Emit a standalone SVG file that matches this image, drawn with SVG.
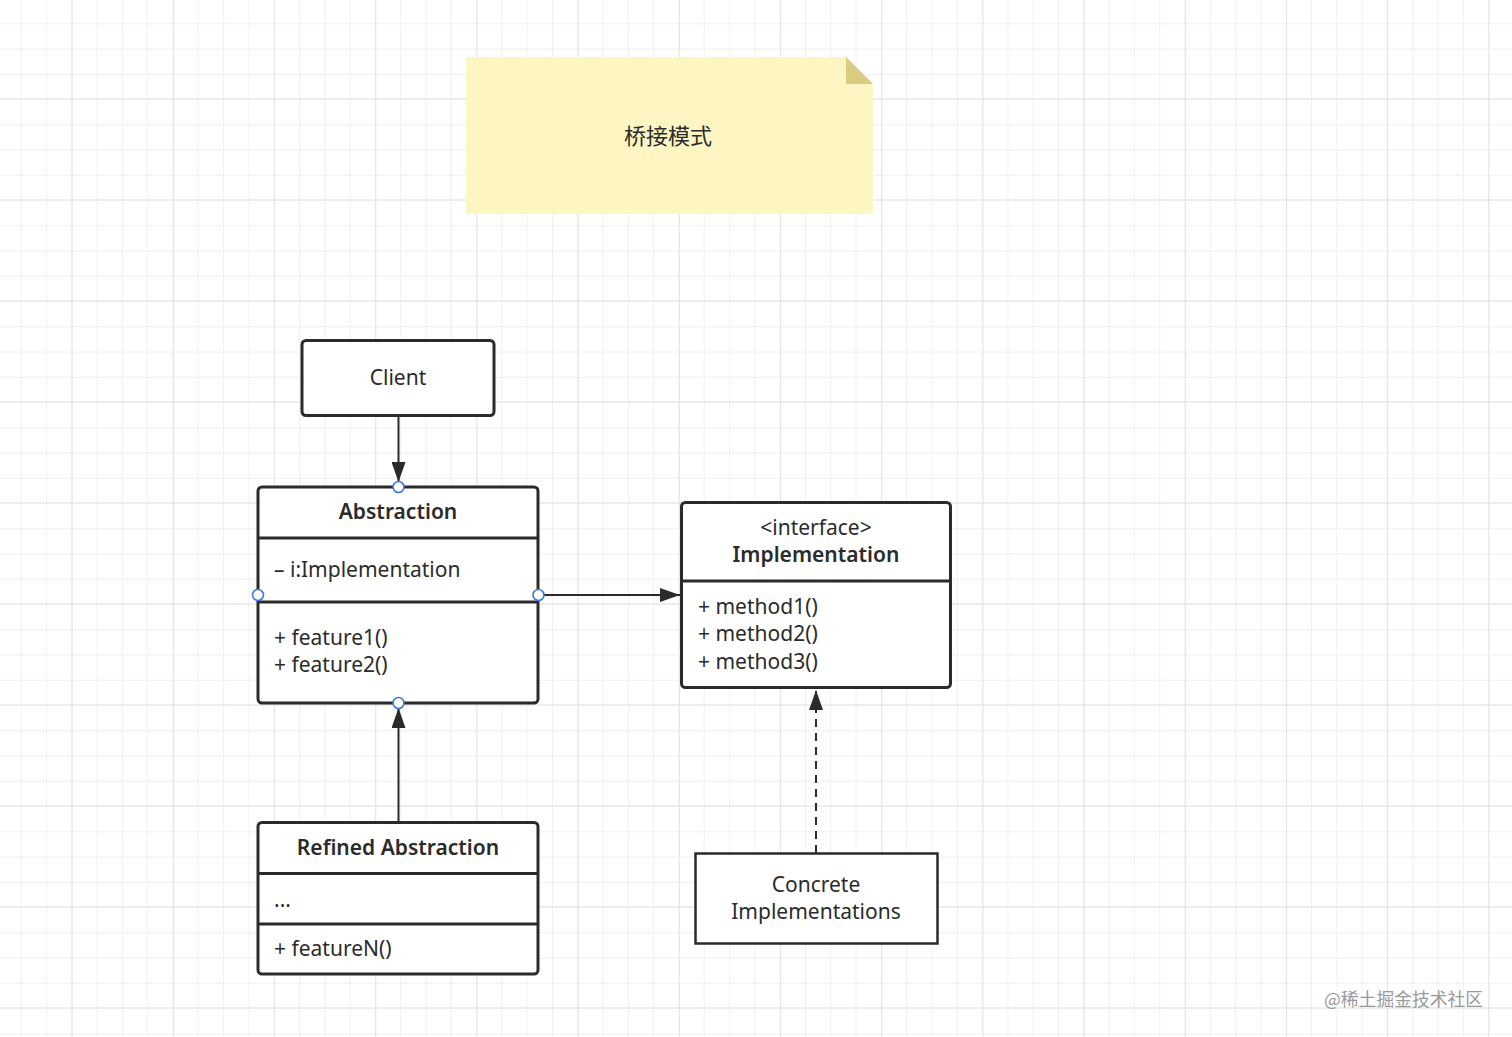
<svg xmlns="http://www.w3.org/2000/svg" width="1512" height="1037" viewBox="0 0 1512 1037">
<defs>
<pattern id="minor" x="20.7" y="23.3" width="25.3" height="25.25" patternUnits="userSpaceOnUse">
<path d="M0 0 V25.25 M0 0 H25.3" fill="none" stroke="#ebebeb" stroke-width="1.3"/>
</pattern>
<pattern id="major" x="71.7" y="98.3" width="101.2" height="101" patternUnits="userSpaceOnUse">
<path d="M0 0 V101 M0 0 H101.2" fill="none" stroke="#e0e0e0" stroke-width="1.6"/>
</pattern>
<marker id="arrV" viewBox="0 0 20 14" refX="20" refY="7" markerWidth="20" markerHeight="14" markerUnits="userSpaceOnUse" orient="auto">
<path d="M0 0 L20 7 L0 14 Z" fill="#2b2b2b"/>
</marker>
</defs>
<style>
.box{fill:#fff;stroke:#2b2b2b;stroke-width:3}
.div{stroke:#2b2b2b;stroke-width:3}
.t{font-family:"Noto Sans","Liberation Sans",sans-serif;font-size:21px;fill:#2b2b2b}
.b{font-weight:600}
.m{text-anchor:middle}
.conn{fill:none;stroke:#2b2b2b;stroke-width:2}
.pt{fill:#fff;stroke:#3b78e7;stroke-width:1.6}
</style>
<rect width="1512" height="1037" fill="#fff"/>
<rect width="1512" height="1037" fill="url(#minor)"/>
<rect width="1512" height="1037" fill="url(#major)"/>

<g id="note">
<path d="M466 57 H846 L873 84 V214 H466 Z" fill="#fdf5c2"/>
<path d="M846 57 L873 84 H846 Z" fill="#dccb83"/>
<text x="668" y="144" text-anchor="middle" style="font-family:'Noto Sans CJK SC','Noto Sans',sans-serif;font-size:22px;fill:#2b2b2b">桥接模式</text>
</g>

<g id="client">
<rect class="box" x="302" y="340.5" width="192" height="75" rx="4"/>
<text class="t m" x="398" y="385">Client</text>
</g>

<g id="abstraction">
<rect class="box" x="258" y="487" width="280" height="216" rx="4"/>
<line class="div" x1="258" y1="538" x2="538" y2="538"/>
<line class="div" x1="258" y1="602" x2="538" y2="602"/>
<text class="t b m" x="398" y="519">Abstraction</text>
<text class="t" x="274" y="577">– i:Implementation</text>
<text class="t" x="274" y="645">+ feature1()</text>
<text class="t" x="274" y="672">+ feature2()</text>
</g>

<g id="implementation">
<rect class="box" x="681.5" y="502.5" width="269" height="185" rx="4"/>
<line class="div" x1="681.5" y1="581" x2="950.5" y2="581"/>
<text class="t m" x="816" y="535">&lt;interface&gt;</text>
<text class="t b m" x="816" y="562">Implementation</text>
<text class="t" x="698" y="614">+ method1()</text>
<text class="t" x="698" y="641">+ method2()</text>
<text class="t" x="698" y="669">+ method3()</text>
</g>

<g id="refined">
<rect class="box" x="258" y="822.5" width="280" height="151.5" rx="4"/>
<line class="div" x1="258" y1="873.5" x2="538" y2="873.5"/>
<line class="div" x1="258" y1="924" x2="538" y2="924"/>
<text class="t b m" x="398" y="855">Refined Abstraction</text>
<text class="t" x="274" y="907">...</text>
<text class="t" x="274" y="956">+ featureN()</text>
</g>

<g id="concrete">
<rect x="695.5" y="853.5" width="242" height="90" fill="#fff" stroke="#2b2b2b" stroke-width="2.5"/>
<text class="t m" x="816" y="892">Concrete</text>
<text class="t m" x="816" y="919">Implementations</text>
</g>

<g id="connectors">
<line class="conn" x1="398.5" y1="416" x2="398.5" y2="482" marker-end="url(#arrV)"/>
<path class="conn" d="M538 595 H680" marker-end="url(#arrV)"/>
<line class="conn" x1="398.5" y1="822" x2="398.5" y2="708" marker-end="url(#arrV)"/>
<line class="conn" x1="816" y1="853" x2="816" y2="690" stroke-dasharray="8 6" marker-end="url(#arrV)"/>
<circle class="pt" cx="398.5" cy="487" r="5.5"/>
<circle class="pt" cx="258" cy="595" r="5.5"/>
<circle class="pt" cx="538.5" cy="595" r="5.5"/>
<circle class="pt" cx="398.5" cy="703" r="5.5"/>
</g>

<text x="1324" y="1006" style="font-family:'Noto Sans CJK SC','Noto Sans',sans-serif;font-size:17.8px;fill:#9a9a9a">@稀土掘金技术社区</text>
</svg>
